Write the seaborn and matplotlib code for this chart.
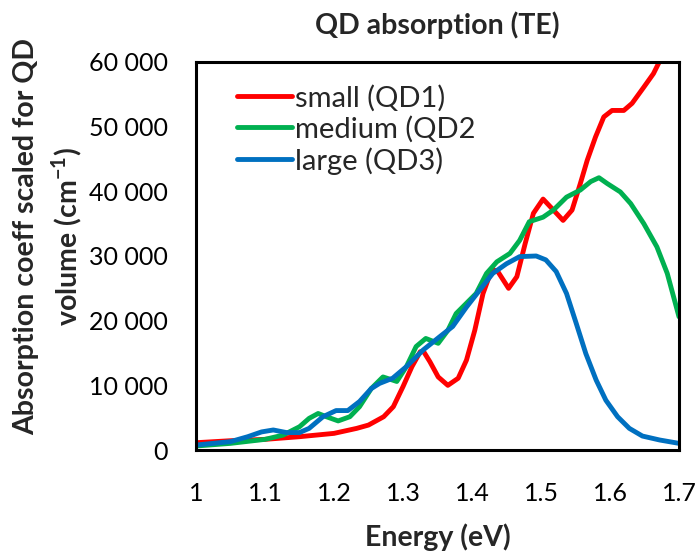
import pandas as pd
import matplotlib
matplotlib.use("Agg")
import matplotlib.pyplot as plt
from matplotlib.ticker import MultipleLocator, FuncFormatter
import seaborn as sns

# Absorption spectra (TE) for three quantum dot sizes, coefficient scaled for QD volume
energy_small = [1.000, 1.050, 1.100, 1.150, 1.200, 1.233, 1.250, 1.272, 1.286, 1.300, 1.313,
                1.325, 1.330, 1.339, 1.351, 1.365, 1.380, 1.392, 1.404, 1.416, 1.429, 1.438,
                1.453, 1.465, 1.477, 1.489, 1.503, 1.518, 1.532, 1.545, 1.557, 1.567, 1.579,
                1.591, 1.603, 1.620, 1.632, 1.649, 1.663, 1.670, 1.700]
absorb_small = [1130, 1440, 1650, 2060, 2575, 3350, 3860, 5150, 6700, 9800, 12900,
                15200, 15200, 13650, 11300, 10000, 11100, 13900, 18500, 24200, 28000, 27500,
                25000, 26800, 31900, 36600, 38800, 37100, 35500, 37100, 41200, 44800, 48400,
                51500, 52500, 52500, 53600, 56100, 58200, 59700, 66000]

energy_medium = [1.000, 1.050, 1.100, 1.126, 1.150, 1.164, 1.177, 1.189, 1.206, 1.223, 1.237,
                 1.254, 1.271, 1.291, 1.305, 1.319, 1.333, 1.351, 1.365, 1.377, 1.392, 1.406,
                 1.421, 1.436, 1.455, 1.469, 1.483, 1.503, 1.518, 1.537, 1.557, 1.572, 1.584,
                 1.596, 1.615, 1.630, 1.649, 1.668, 1.683, 1.700]
absorb_medium = [620, 1030, 1650, 2300, 3600, 4900, 5650, 5150, 4500, 5150, 6700,
                 9500, 11300, 10600, 12900, 16000, 17250, 16500, 18500, 21100, 22700, 24200,
                 27300, 29100, 30400, 32400, 35300, 36000, 37100, 39100, 40200, 41500, 42100,
                 41200, 39900, 38100, 35000, 31400, 27300, 20600]

energy_large = [1.000, 1.050, 1.075, 1.095, 1.112, 1.131, 1.150, 1.164, 1.184, 1.203, 1.220,
                1.237, 1.254, 1.266, 1.285, 1.305, 1.329, 1.353, 1.372, 1.392, 1.411, 1.430,
                1.450, 1.469, 1.493, 1.507, 1.522, 1.537, 1.551, 1.565, 1.580, 1.594, 1.611,
                1.628, 1.647, 1.672, 1.700]
absorb_large = [770, 1300, 2060, 2800, 3100, 2700, 2700, 3350, 5150, 6100, 6100,
                7500, 9500, 10300, 11100, 12900, 15450, 17500, 19100, 22100, 24700, 27300,
                28800, 29900, 30000, 29400, 27600, 24200, 19600, 14900, 10800, 7700, 5150,
                3350, 2160, 1550, 1030]

series_names = ["small (QD1)", "medium (QD2", "large (QD3)"]
series_colors = ["#FF0000", "#00B050", "#0070C0"]

df = pd.concat([
    pd.DataFrame({"Energy": energy_small, "Absorption": absorb_small, "Dot": series_names[0]}),
    pd.DataFrame({"Energy": energy_medium, "Absorption": absorb_medium, "Dot": series_names[1]}),
    pd.DataFrame({"Energy": energy_large, "Absorption": absorb_large, "Dot": series_names[2]}),
], ignore_index=True)

sns.set_theme(style="white")
plt.rcParams["font.family"] = ["Lato", "DejaVu Sans"]
plt.rcParams["mathtext.fontset"] = "custom"
plt.rcParams["mathtext.rm"] = "Lato"
plt.rcParams["mathtext.bf"] = "Lato:bold"

fig = plt.figure(figsize=(7.0, 5.58), dpi=100)
ax = fig.add_axes([0.28, 0.1935, 0.69, 0.6955])

sns.lineplot(data=df, x="Energy", y="Absorption", hue="Dot", hue_order=series_names,
             palette=series_colors, linewidth=3.5, sort=False, ax=ax,
             solid_joinstyle="round", solid_capstyle="round")

ax.set_xlim(1.0, 1.7)
ax.set_ylim(0, 60000)
ax.xaxis.set_major_locator(MultipleLocator(0.1))
ax.xaxis.set_minor_locator(MultipleLocator(0.05))
ax.yaxis.set_major_locator(MultipleLocator(10000))
ax.yaxis.set_minor_locator(MultipleLocator(5000))
ax.xaxis.set_major_formatter(FuncFormatter(lambda v, p: f"{v:g}"))
ax.yaxis.set_major_formatter(FuncFormatter(lambda v, p: f"{int(round(v)):,}".replace(",", " ")))
ax.tick_params(axis="both", which="both", direction="in", color="black", width=2.2,
               length=5, labelsize=18, labelcolor="black")
ax.tick_params(axis="x", which="major", pad=23)
ax.tick_params(axis="y", which="major", pad=20)
for side in ["left", "right", "top", "bottom"]:
    ax.spines[side].set_visible(True)
    ax.spines[side].set_color("black")
    ax.spines[side].set_linewidth(2.2)

ax.set_title("QD absorption (TE)", fontsize=20.5, fontweight="bold", pad=20)
ax.set_xlabel("Energy (eV)", fontsize=20.5, fontweight="bold", labelpad=13)
ax.set_ylabel("Absorption coeff scaled for QD\nvolume (cm$^{\\mathbf{-1}}$)", fontsize=20.5,
              fontweight="bold", labelpad=4, linespacing=1.35, y=0.55)

leg = ax.legend(loc="upper left", frameon=False, fontsize=21, handlelength=1.9,
                handletextpad=0.08, labelspacing=0.15, borderpad=0, borderaxespad=0,
                bbox_to_anchor=(0.085, 0.942))
for line in leg.get_lines():
    line.set_linewidth(3.5)

fig.savefig("out.png", dpi=100, facecolor="white")
